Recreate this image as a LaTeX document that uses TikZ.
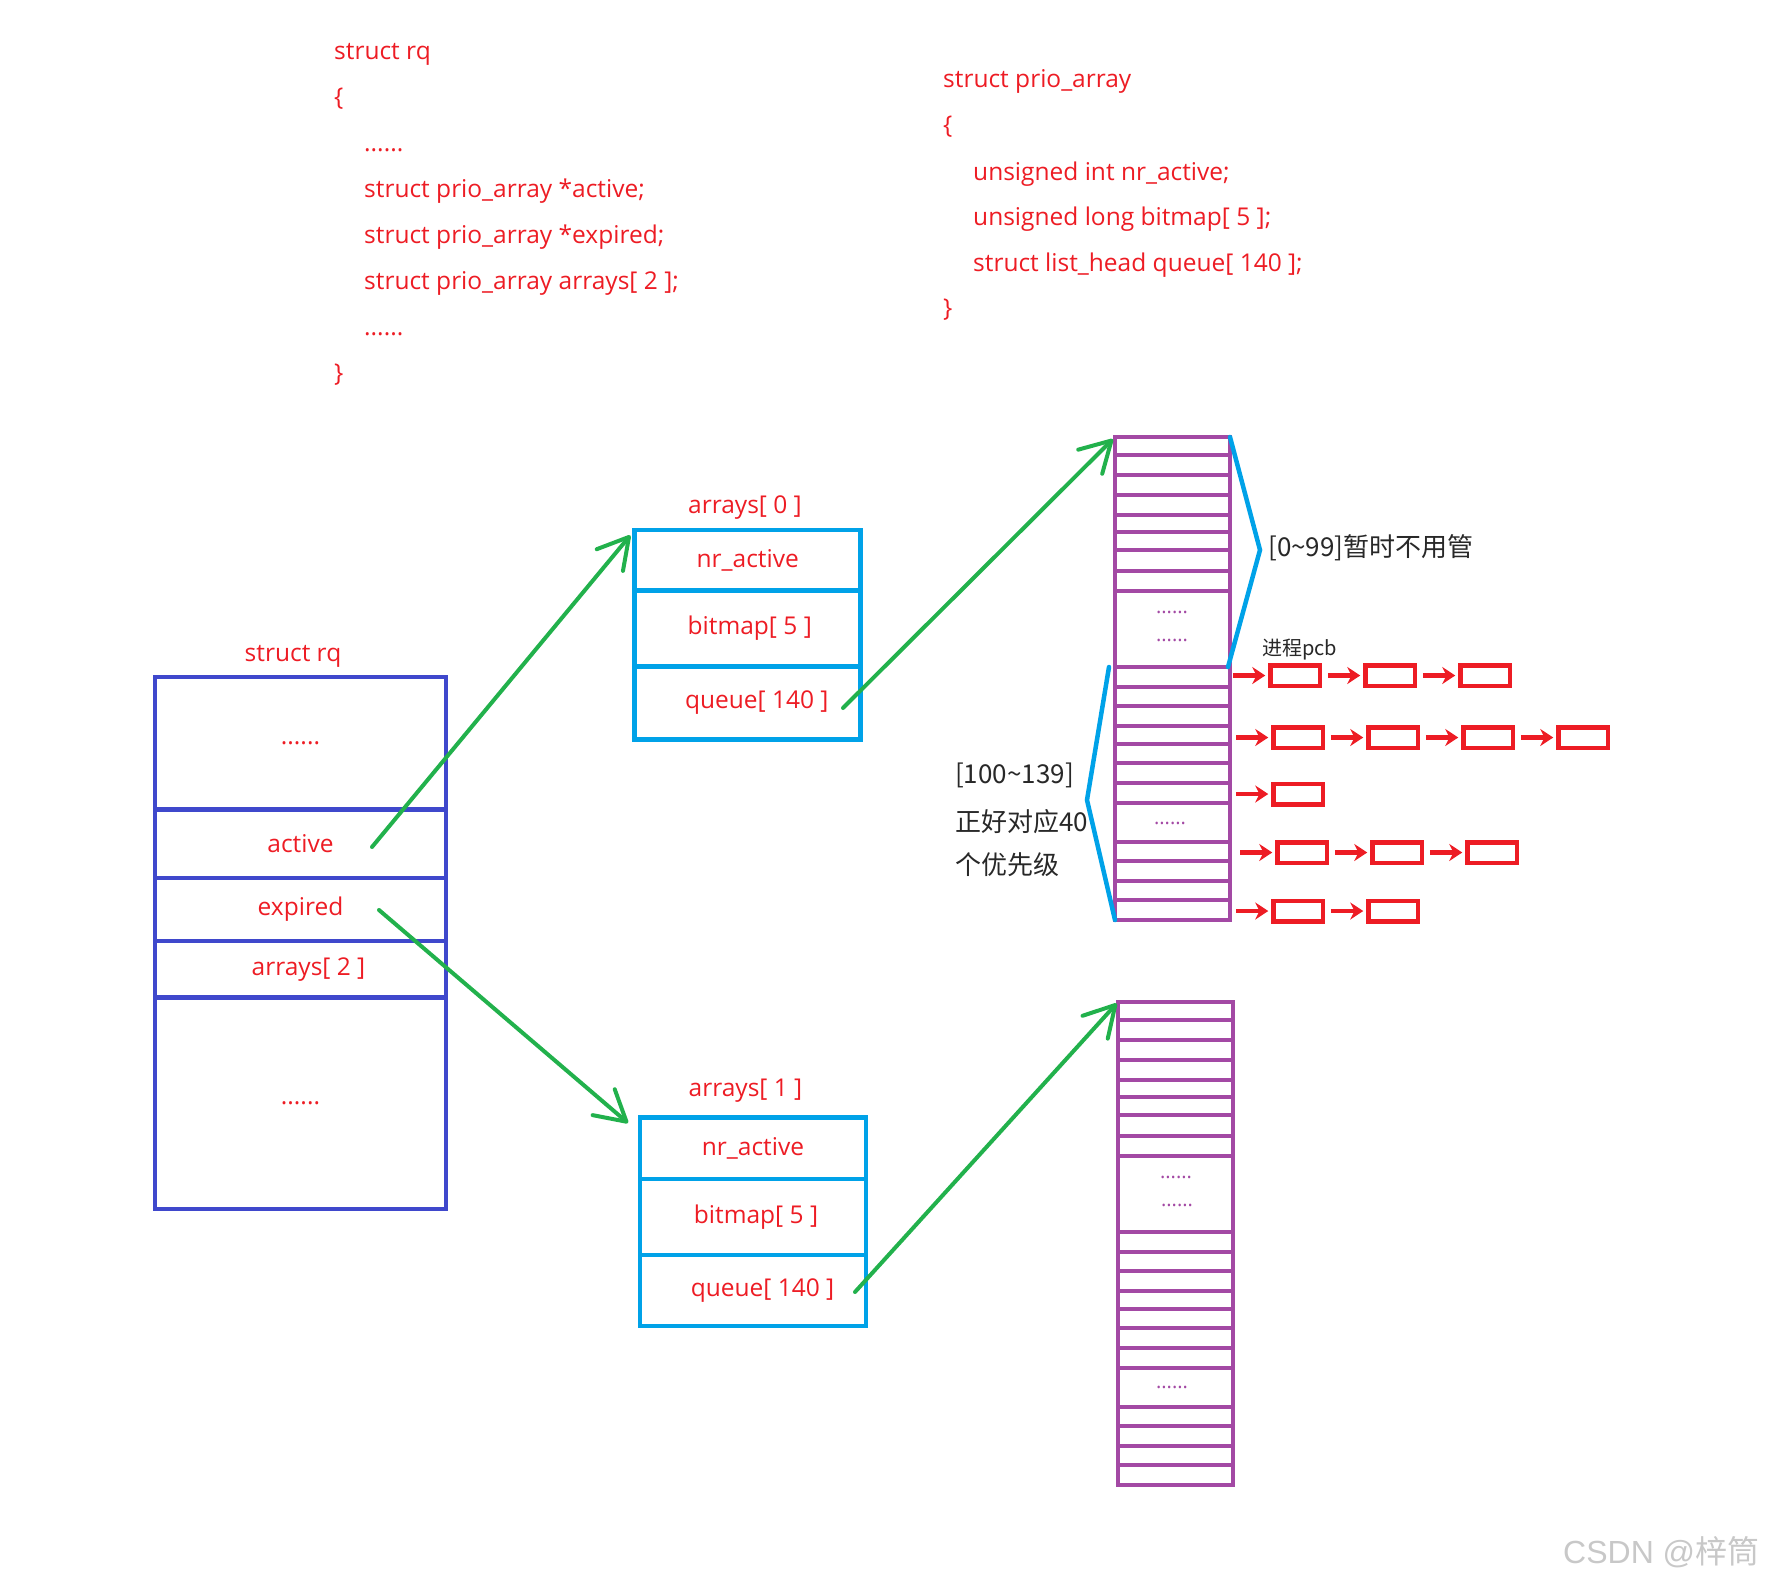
\documentclass[tikz,border=0pt]{standalone}
\usepackage{fontspec}
\setmainfont{Open Sans}
\newfontfamily\cjk{Noto Sans CJK SC}
\newfontfamily\wmfont{Liberation Sans}
\usetikzlibrary{arrows.meta, positioning}
\definecolor{rqred}{RGB}{237,28,36}
\definecolor{rqblue}{RGB}{63,72,204}
\definecolor{arrblue}{RGB}{0,162,232}
\definecolor{prioviolet}{RGB}{163,73,164}
\definecolor{ptrgreen}{RGB}{34,177,76}
\definecolor{inkgray}{RGB}{40,40,40}
\definecolor{wmgray}{RGB}{200,200,200}
\newcommand\sixdots{......}
\tikzset{
  code/.style={anchor=base west, inner sep=0pt, text=rqred, font=\fontsize{24.5}{30}\selectfont},
  field/.style={draw, outer sep=0pt, inner sep=0pt, text=rqred, font=\fontsize{24.5}{30}\selectfont},
  rqfield/.style={field, draw=rqblue, line width=4.3pt, minimum width=290.5pt},
  arrfield/.style={field, draw=arrblue, line width=4.7pt, minimum width=226pt},
  note/.style={anchor=west, inner sep=0pt, text=inkgray, font=\cjk\fontsize{26}{30}\selectfont},
  pcbbox/.style={draw=rqred, line width=4.5pt, minimum width=49.5pt, minimum height=20.5pt, outer sep=0pt, inner sep=0pt},
  pcbarrow/.style={draw=rqred, line width=4.5pt, -{Stealth[length=13pt,width=17pt]}, shorten <=8pt, shorten >=5pt},
  ptr/.style={draw=ptrgreen, line width=4pt, line cap=round, -{Straight Barb[length=30pt,width=34pt,round]}},
  brace/.style={draw=arrblue, line width=4.5pt, line cap=round},
  slot/.style={draw=prioviolet, line width=4.3pt},
  slotdots/.style={anchor=base, inner sep=0pt, text=prioviolet, font=\fontsize{20}{24}\selectfont}
}

\begin{document}
\begin{tikzpicture}[x=1pt, y=-1pt]
    \useasboundingbox (0,0) rectangle (1765,1583);

    \foreach \y/\x/\t in {59/334/struct rq, 105/334/\{, 151/364/\sixdots, 197/364/struct prio\_array *active;,
        243/364/struct prio\_array *expired;, 289/364/struct prio\_array arrays[ 2 ];, 335/364/\sixdots, 381/334/\}}
        \node[code] at (\x,\y) {\t};
    \foreach \y/\x/\t in {87/943/struct prio\_array, 133/943/\{, 180/973/unsigned int nr\_active;,
        225/973/unsigned long bitmap[ 5 ];, 271/973/struct list\_head queue[ 140 ];, 316/943/\}}
        \node[code] at (\x,\y) {\t};

    \node[code, anchor=base] at (293,661) {struct rq};
    \node[rqfield, minimum height=132.3pt] (rqhead) at (300.5,743.35) {\sixdots};
    \node[rqfield, minimum height=68.8pt, below=0pt of rqhead] (rqact) {active};
    \node[rqfield, minimum height=62.5pt, below=0pt of rqact] (rqexp) {expired};
    \node[rqfield, minimum height=56.7pt, below=0pt of rqexp] (rqarr) {\hspace*{16pt}arrays[ 2 ]};
    \node[rqfield, minimum height=211.5pt, below=0pt of rqarr] (rqtail) {\sixdots};

    \node[code, anchor=base] at (745,513) {arrays[ 0 ]};
    \node[arrfield, minimum height=60.5pt] (arr0nr) at (747.75,560.25) {nr\_active};
    \node[arrfield, minimum height=76.2pt, below=0pt of arr0nr] (arr0bm) {\hspace*{4pt}bitmap[ 5 ]};
    \node[arrfield, minimum height=72.5pt, below=0pt of arr0bm] (arr0q) {\hspace*{18pt}queue[ 140 ]};

    \node[code, anchor=base] at (745.5,1096) {arrays[ 1 ]};
    \node[arrfield, minimum height=61.3pt] (arr1nr) at (753,1148.3) {nr\_active};
    \node[arrfield, minimum height=76pt, below=0pt of arr1nr] (arr1bm) {\hspace*{6pt}bitmap[ 5 ]};
    \node[arrfield, minimum height=71pt, below=0pt of arr1bm] (arr1q) {\hspace*{19pt}queue[ 140 ]};

    \foreach \c/\x/\y in {0/1172.5/678.5, 1/1175.5/1243.5}
    {
        \node[slot, minimum width=115pt, minimum height=483pt, outer sep=0pt, inner sep=0pt] (prio\c) at (\x,\y) {};
        \foreach \d in {18,38,58,78,95,113,134,154,230,250,269,289,307,326,346,366,405,424,444,463}
            \draw[slot] (prio\c.north west) ++(0,\d) -- ++(115,0);
    }
    \node[slotdots] at (1172,613) {\sixdots};
    \node[slotdots] at (1172,641) {\sixdots};
    \node[slotdots] at (1170,824) {\sixdots};
    \node[slotdots] at (1176,1178) {\sixdots};
    \node[slotdots] at (1177,1206) {\sixdots};
    \node[slotdots] at (1172,1388) {\sixdots};

    \coordinate (actptr) at (372,847);
    \coordinate (expptr) at (379,910);
    \coordinate (q0ptr) at (843,708);
    \coordinate (q1ptr) at (855,1292);
    \coordinate (arr1tip) at (628,1123);
    \draw[ptr, shorten >=7pt] (actptr) -- (arr0nr.north west);
    \draw[ptr] (expptr) -- (arr1tip);
    \draw[ptr, shorten >=3pt] (q0ptr) -- (prio0.north west);
    \draw[ptr, shorten >=2pt] (q1ptr) -- (prio1.north west);

    \draw[brace] (prio0.north east) -- (1260,550) -- (1228,667);
    \draw[brace] (1109,667) -- (1087,800) -- (prio0.south west);
    \node[note] (idle) at (1268,548) {[0\textasciitilde99]暂时不用管};
    \node[note, font=\cjk\fontsize{20}{24}\selectfont] (pcbtag) at (1262,650) {进程pcb};
    \node[note] (rt1) at (955,775) {[100\textasciitilde139]};
    \node[note] (rt2) at (955,822) {正好对应40};
    \node[note] (rt3) at (955,865) {个优先级};

    \foreach \r/\y/\ax/\n in {1/675.5/1233/3, 2/737.5/1236/4, 3/794/1236/1, 4/852.5/1240/3, 5/911/1236/2}
    {
        \coordinate (pcb\r0) at (\ax-8,\y);
        \foreach \k [remember=\k as \prev (initially 0)] in {1,...,\n}
        {
            \node[pcbbox] (pcb\r\k) at ({\ax+95*(\k-1)+62},\y) {};
            \draw[pcbarrow] (pcb\r\prev) -- (pcb\r\k);
        }
    }

    \node[anchor=west, inner sep=0pt, text=wmgray, font=\wmfont\fontsize{32}{34}\selectfont] (mark) at (1563,1552) {CSDN @{\cjk 梓筒}};
\end{tikzpicture}
\end{document}
